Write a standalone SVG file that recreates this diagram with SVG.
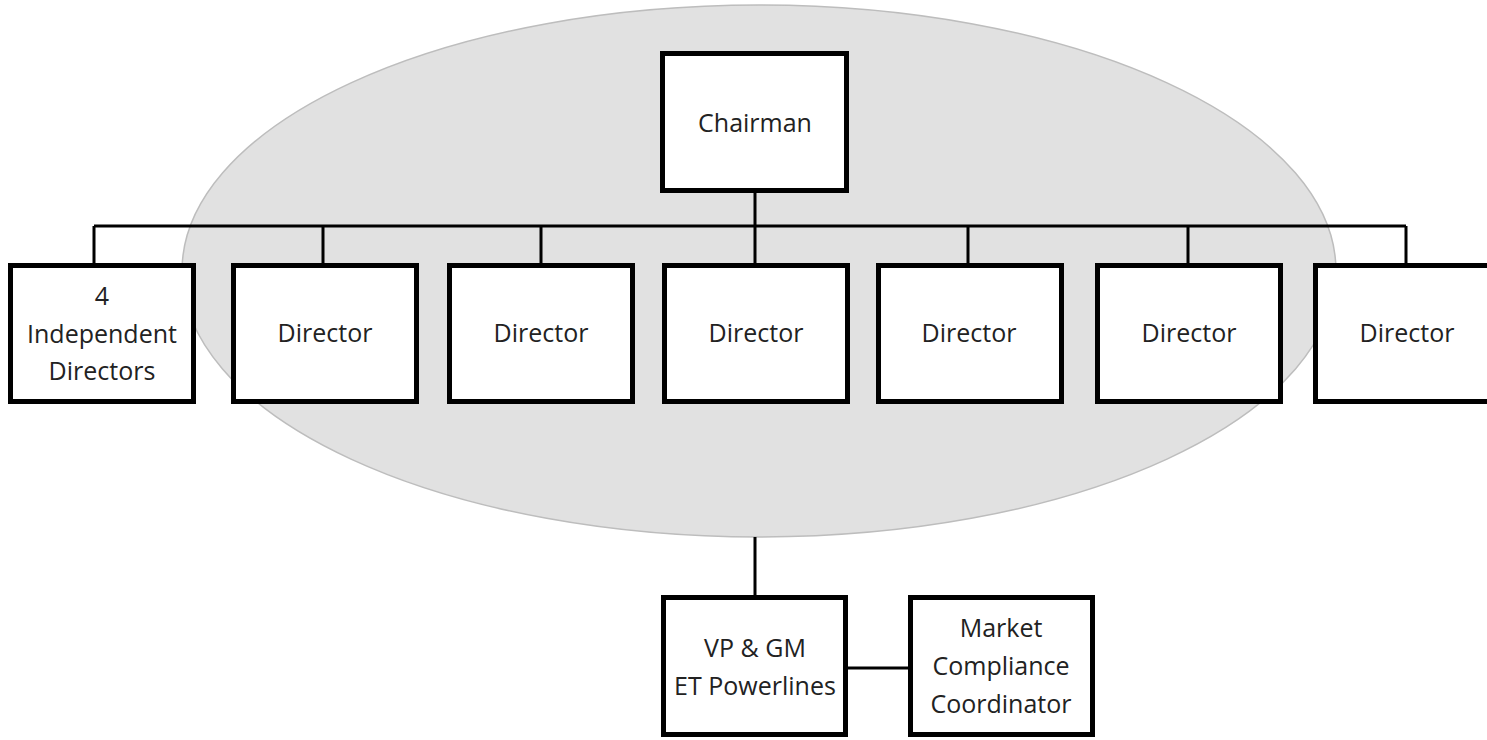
<svg xmlns="http://www.w3.org/2000/svg" width="1487" height="740" viewBox="0 0 1487 740">
<style>
.box{fill:#fff;stroke:#000;stroke-width:5}
.ln{fill:none;stroke:#000;stroke-width:3}
text{font-family:"Open Sans","Noto Sans","Liberation Sans",sans-serif;font-size:25px;fill:#222;text-anchor:middle}
</style>
<rect width="1487" height="740" fill="#fff"/>
<ellipse cx="759" cy="271" rx="577" ry="266" fill="#e1e1e1" stroke="#bdbdbd" stroke-width="1.5"/>
<g id="connectors">
<path class="ln" d="M755 193V263M94 226H1406M94 226V263M323 226V263M541 226V263M968 226V263M1188 226V263M1406 226V263M755 537V595M848 668H908"/>
</g>
<g id="chairman"><rect class="box" x="662.5" y="53.5" width="184" height="137"/><text x="755" y="132">Chairman</text></g>
<g id="indep"><rect class="box" x="10.5" y="265.5" width="183" height="136"/><text x="102" y="305">4</text><text x="102" y="343">Independent</text><text x="102" y="380">Directors</text></g>
<g id="dir1"><rect class="box" x="233.5" y="265.5" width="183" height="136"/><text x="325" y="342">Director</text></g>
<g id="dir2"><rect class="box" x="449.5" y="265.5" width="183" height="136"/><text x="541" y="342">Director</text></g>
<g id="dir3"><rect class="box" x="664.5" y="265.5" width="183" height="136"/><text x="756" y="342">Director</text></g>
<g id="dir4"><rect class="box" x="878.5" y="265.5" width="183" height="136"/><text x="969" y="342">Director</text></g>
<g id="dir5"><rect class="box" x="1097.5" y="265.5" width="183" height="136"/><text x="1189" y="342">Director</text></g>
<g id="dir6"><rect class="box" x="1315.5" y="265.5" width="183" height="136"/><text x="1407" y="342">Director</text></g>
<g id="vp"><rect class="box" x="663.5" y="597.5" width="182" height="137"/><text x="755" y="657">VP &amp; GM</text><text x="755" y="695">ET Powerlines</text></g>
<g id="mcc"><rect class="box" x="910.5" y="597.5" width="182" height="137"/><text x="1001" y="637">Market</text><text x="1001" y="675">Compliance</text><text x="1001" y="713">Coordinator</text></g>
</svg>
